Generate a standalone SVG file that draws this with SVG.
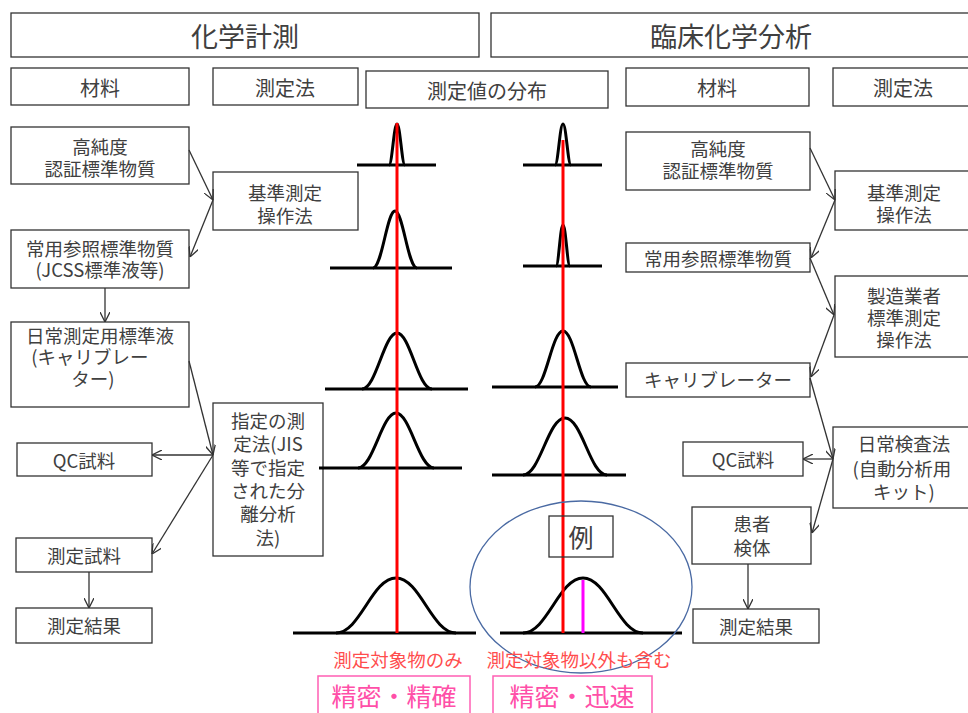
<svg xmlns="http://www.w3.org/2000/svg" width="968" height="713" viewBox="0 0 968 713">
<style>
text{font-family:"Noto Sans CJK JP","Noto Sans",sans-serif;fill:#404040;text-anchor:middle;dominant-baseline:central;font-size:18.5px}
.t{font-size:27px}
.h{font-size:20px}
.box{fill:#fff;stroke:#333;stroke-width:1.3}
.nb{fill:none;stroke:#333;stroke-width:1.3}
.con{fill:none;stroke:#333;stroke-width:1.3}
.cv{fill:none;stroke:#000;stroke-width:3}
.red{stroke:#ff0000;stroke-width:3}
.rl{fill:#ff4d4d;font-size:18.5px}
.pk{fill:none;stroke:#ff5fb4;stroke-width:1.5}
.pt{fill:#ff4fa8;font-size:25px}
</style>
<defs>
<marker id="ah" viewBox="0 0 10 10" refX="10" refY="5" markerWidth="10" markerHeight="10" markerUnits="userSpaceOnUse" orient="auto">
<path d="M0,0 L10,5 L0,10" fill="none" stroke="#333" stroke-width="1.3"/>
</marker>
</defs>
<rect width="968" height="713" fill="#fff"/>

<!-- headers -->
<g id="title-left"><rect class="box" x="11" y="13" width="468" height="44"/><text class="t" x="245" y="35">化学計測</text></g>
<g id="title-right"><rect class="box" x="491" y="13" width="480" height="44"/><text class="t" x="731" y="35">臨床化学分析</text></g>
<g id="h-mat-l"><rect class="box" x="11" y="68" width="178" height="37"/><text class="h" x="100" y="87">材料</text></g>
<g id="h-met-l"><rect class="box" x="213" y="68" width="145" height="37"/><text class="h" x="285" y="87">測定法</text></g>
<g id="h-dist"><rect class="box" x="366" y="71" width="242" height="37"/><text class="h" x="487" y="90">測定値の分布</text></g>
<g id="h-mat-r"><rect class="box" x="626" y="68" width="183" height="38"/><text class="h" x="717" y="87">材料</text></g>
<g id="h-met-r"><rect class="box" x="833" y="68" width="140" height="38"/><text class="h" x="903" y="87">測定法</text></g>

<!-- left column -->
<g id="l-crm"><rect class="box" x="11" y="127" width="178" height="57"/><text x="100" y="146">高純度</text><text x="100" y="168">認証標準物質</text></g>
<g id="l-ref"><rect class="box" x="213" y="172" width="145" height="58"/><text x="285" y="192">基準測定</text><text x="285" y="215">操作法</text></g>
<g id="l-jcss"><rect class="box" x="11" y="230" width="178" height="58"/><text x="100" y="248">常用参照標準物質</text><text x="100" y="269">(JCSS標準液等)</text></g>
<g id="l-cal"><rect class="box" x="11" y="322" width="178" height="85"/><text x="100" y="335">日常測定用標準液</text><text x="90" y="356">(キャリブレー</text><text x="93" y="378">ター)</text></g>
<g id="l-method"><rect class="box" x="213" y="403" width="110" height="153"/><text x="268" y="420">指定の測</text><text x="268" y="443">定法(JIS</text><text x="268" y="467">等で指定</text><text x="268" y="490">された分</text><text x="268" y="513">離分析</text><text x="268" y="537">法)</text></g>
<g id="l-qc"><rect class="box" x="17" y="443" width="135" height="33"/><text x="84" y="460">QC試料</text></g>
<g id="l-sample"><rect class="box" x="16" y="538" width="136" height="34"/><text x="84" y="555">測定試料</text></g>
<g id="l-result"><rect class="box" x="16" y="608" width="136" height="35"/><text x="84" y="625">測定結果</text></g>

<!-- right column -->
<g id="r-crm"><rect class="box" x="626" y="132" width="184" height="58"/><text x="718" y="148">高純度</text><text x="718" y="170">認証標準物質</text></g>
<g id="r-ref"><rect class="box" x="835" y="171" width="138" height="59"/><text x="904" y="192">基準測定</text><text x="904" y="214">操作法</text></g>
<g id="r-jcss"><rect class="box" x="626" y="243" width="184" height="29"/><text x="718" y="258">常用参照標準物質</text></g>
<g id="r-mfr"><rect class="box" x="835" y="276" width="138" height="81"/><text x="904" y="295">製造業者</text><text x="904" y="317">標準測定</text><text x="904" y="339">操作法</text></g>
<g id="r-cal"><rect class="box" x="626" y="363" width="184" height="34"/><text x="718" y="379">キャリブレーター</text></g>
<g id="r-method"><rect class="box" x="833" y="427" width="140" height="81"/><text x="904" y="443">日常検査法</text><text x="902" y="468">(自動分析用</text><text x="904" y="491">キット)</text></g>
<g id="r-qc"><rect class="box" x="683" y="442" width="120" height="34"/><text x="743" y="459">QC試料</text></g>
<g id="r-patient"><rect class="box" x="692" y="507" width="119" height="57"/><text x="752" y="523">患者</text><text x="752" y="547">検体</text></g>
<g id="r-result"><rect class="box" x="693" y="609" width="126" height="34"/><text x="756" y="626">測定結果</text></g>

<!-- connectors -->
<g id="connectors">
<path class="con" d="M189,150 L213,200" marker-end="url(#ah)"/>
<path class="con" d="M213,200 L190,257" marker-end="url(#ah)"/>
<path class="con" d="M105,288 L105,322" marker-end="url(#ah)"/>
<path class="con" d="M189,361 L213,455" marker-end="url(#ah)"/>
<path class="con" d="M213,455 L152,455" marker-end="url(#ah)"/>
<path class="con" d="M213,455 L152,554" marker-end="url(#ah)"/>
<path class="con" d="M89,572 L89,608" marker-end="url(#ah)"/>
<path class="con" d="M810,148 L835,200" marker-end="url(#ah)"/>
<path class="con" d="M835,200 L811,258" marker-end="url(#ah)"/>
<path class="con" d="M810,258 L834,315" marker-end="url(#ah)"/>
<path class="con" d="M834,315 L811,377" marker-end="url(#ah)"/>
<path class="con" d="M810,378 L833,459" marker-end="url(#ah)"/>
<path class="con" d="M833,459 L803,459" marker-end="url(#ah)"/>
<path class="con" d="M833,459 L812,533" marker-end="url(#ah)"/>
<path class="con" d="M748,564 L748,609" marker-end="url(#ah)"/>
</g>

<!-- distributions -->
<g id="distributions">
<g id="dist-left">
<line class="cv" x1="357" y1="165" x2="436" y2="165"/>
<path class="cv" d="M389,165 C392.2,165 393.8,124 397,124 S401.8,165 405,165"/>
<line class="cv" x1="330" y1="268" x2="452" y2="268"/>
<path class="cv" d="M373,268 C382,268 387,211 395,211 S408,268 417,268"/>
<line class="cv" x1="325" y1="389" x2="468" y2="389"/>
<path class="cv" d="M362,389 C376,389 384,333 397,333 S418,389 432,389"/>
<line class="cv" x1="319" y1="468" x2="462" y2="468"/>
<path class="cv" d="M358,468 C373,468 382,413 396,413 S419,468 434,468"/>
<line class="cv" x1="293" y1="633" x2="476" y2="633"/>
<path class="cv" d="M336,633 C360,633 372,578 396,578 S432,633 456,633"/>
<line class="red" x1="397" y1="123" x2="397" y2="633"/>
</g>
<g id="dist-right">
<line class="cv" x1="523" y1="165" x2="602" y2="165"/>
<path class="cv" d="M555,165 C558.2,165 559.8,124 563,124 S567.8,165 571,165"/>
<line class="cv" x1="523" y1="266" x2="602" y2="266"/>
<path class="cv" d="M556,266 C558.8,266 560.2,225 563,225 S567.2,266 570,266"/>
<line class="cv" x1="492" y1="387" x2="618" y2="387"/>
<path class="cv" d="M535,387 C546,387 552,331 563,331 S580,387 591,387"/>
<line class="cv" x1="492" y1="475" x2="626" y2="475"/>
<path class="cv" d="M523,475 C540,475 548,418 565,418 S590,475 607,475"/>
<line class="cv" x1="500" y1="633" x2="682" y2="633"/>
<path class="cv" d="M523,633 C547,633 559,578 583,578 S619,633 643,633"/>
<line class="red" x1="563" y1="140" x2="563" y2="633"/>
<line x1="583" y1="580" x2="583" y2="633" stroke="#ff00ff" stroke-width="3"/>
</g>
</g>

<g id="example">
<rect class="nb" x="549" y="516" width="64" height="41"/>
<text x="581" y="536" style="font-size:25px">例</text>
<ellipse cx="581" cy="587" rx="111" ry="86" fill="none" stroke="#4a6aa3" stroke-width="1.3"/>
</g>

<g id="labels">
<text class="rl" x="398" y="659">測定対象物のみ</text>
<text class="rl" x="579" y="659">測定対象物以外も含む</text>
</g>
<g id="tag-left"><rect class="pk" x="318" y="676" width="152" height="45"/><text class="pt" x="394" y="695">精密・精確</text></g>
<g id="tag-right"><rect class="pk" x="493" y="676" width="159" height="45"/><text class="pt" x="572" y="695">精密・迅速</text></g>
</svg>
